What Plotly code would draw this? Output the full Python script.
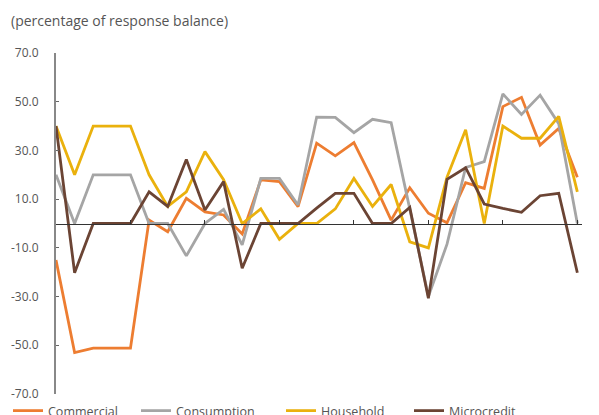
import plotly.graph_objects as go

periods = list(range(29))

commercial = [-15, -53, -51.2, -51.2, -51.2, 1.4, -3.4, 10.3, 4.8, 3.5, -4.3, 17.9, 17.2, 6.9,
              33, 27.8, 33.2, 17.9, 1.4, 14.7, 4.2, 0.3, 16.8, 14.4, 48, 51.8, 32.2, 39, 19]
consumption = [20, 0, 20, 20, 20, 0, 0, -13.3, 0, 5.8, -8.8, 18.5, 18.5, 7.6,
               43.7, 43.6, 37.3, 42.8, 41.4, 6, -30, -8.5, 23, 25.4, 53.2, 44.8, 52.7, 41, 0]
household = [40, 20, 40, 40, 40, 20, 7, 13, 29.5, 18, 0, 6, -6.5, 0,
             0, 6, 18.5, 7, 16, -7.5, -10, 19, 38.5, 0, 40, 35, 35, 44, 13]
microcredit = [40, -20.2, 0, 0, 0, 13, 7, 26.3, 5.5, 17.2, -18.4, 0, 0, 0,
               6.3, 12.4, 12.4, 0, 0, 6.6, -30.7, 18.1, 22.9, 8, 6.2, 4.6, 11.4, 12.4, -20.2]

series = [
    ("Commercial", commercial, "#ED7D31"),
    ("Consumption", consumption, "#A5A5A5"),
    ("Household", household, "#EAB10D"),
    ("Microcredit", microcredit, "#6B4434"),
]

yticks = [70, 50, 30, 10, -10, -30, -50, -70]

# The page body adds an 8px offset; layout numbers below are in figure pixels.
W, H = 599, 415
ML, MT, MB = 48, 45, 0
PLOT_RIGHT = 574
MR = W - PLOT_RIGHT
plot_w = W - ML - MR
paper_h = H - MT - MB
d0 = (H - 386) / paper_h  # bottom of y domain

legend_names = ["legend", "legend2", "legend3", "legend4"]
legend_left = [0, 128, 273, 401]

fig = go.Figure()
for (name, vals, color), lg in zip(series, legend_names):
    fig.add_trace(go.Scatter(x=periods, y=vals, mode="lines", name=name, legend=lg,
                             line=dict(color=color, width=2.8)))

layout_legends = {}
for lg, left in zip(legend_names, legend_left):
    layout_legends[lg] = dict(orientation="h", x=(left - ML) / plot_w, xanchor="left",
                              y=12 / paper_h, yanchor="middle",
                              font=dict(size=12.5, color="#555555"),
                              itemwidth=30, bgcolor="rgba(0,0,0,0)")

fig.update_layout(
    width=W, height=H,
    margin=dict(l=ML, r=MR, t=MT, b=MB, autoexpand=False),
    paper_bgcolor="white", plot_bgcolor="white",
    font=dict(family="Open Sans, Noto Sans, sans-serif", color="#555555", size=12),
    showlegend=True,
    **layout_legends,
)
fig.add_annotation(text="(percentage of response balance)",
                   x=(1 - ML) / plot_w, y=1 + 33 / paper_h, xref="paper", yref="paper",
                   xanchor="left", yanchor="middle", showarrow=False,
                   font=dict(size=14, color="#555555"))

fig.update_xaxes(range=[0, 28.25], showgrid=False, zeroline=False,
                 showticklabels=False, showline=True, linecolor="#333333", linewidth=1,
                 anchor="free", position=d0 + (1 - d0) / 2,
                 ticks="inside", ticklen=4, tickcolor="#333333",
                 tickmode="linear", tick0=0, dtick=4, automargin=False)
fig.update_yaxes(range=[-70, 70], domain=[d0, 1], showgrid=False, zeroline=False,
                 tickvals=yticks, ticktext=[f"{v:.1f}" for v in yticks],
                 showline=True, linecolor="#888888", linewidth=2,
                 ticks="inside", ticklen=3, tickcolor="#666666",
                 ticklabelstandoff=13,
                 tickfont=dict(size=12, color="#555555"), automargin=False)

fig.write_html("out.html")
